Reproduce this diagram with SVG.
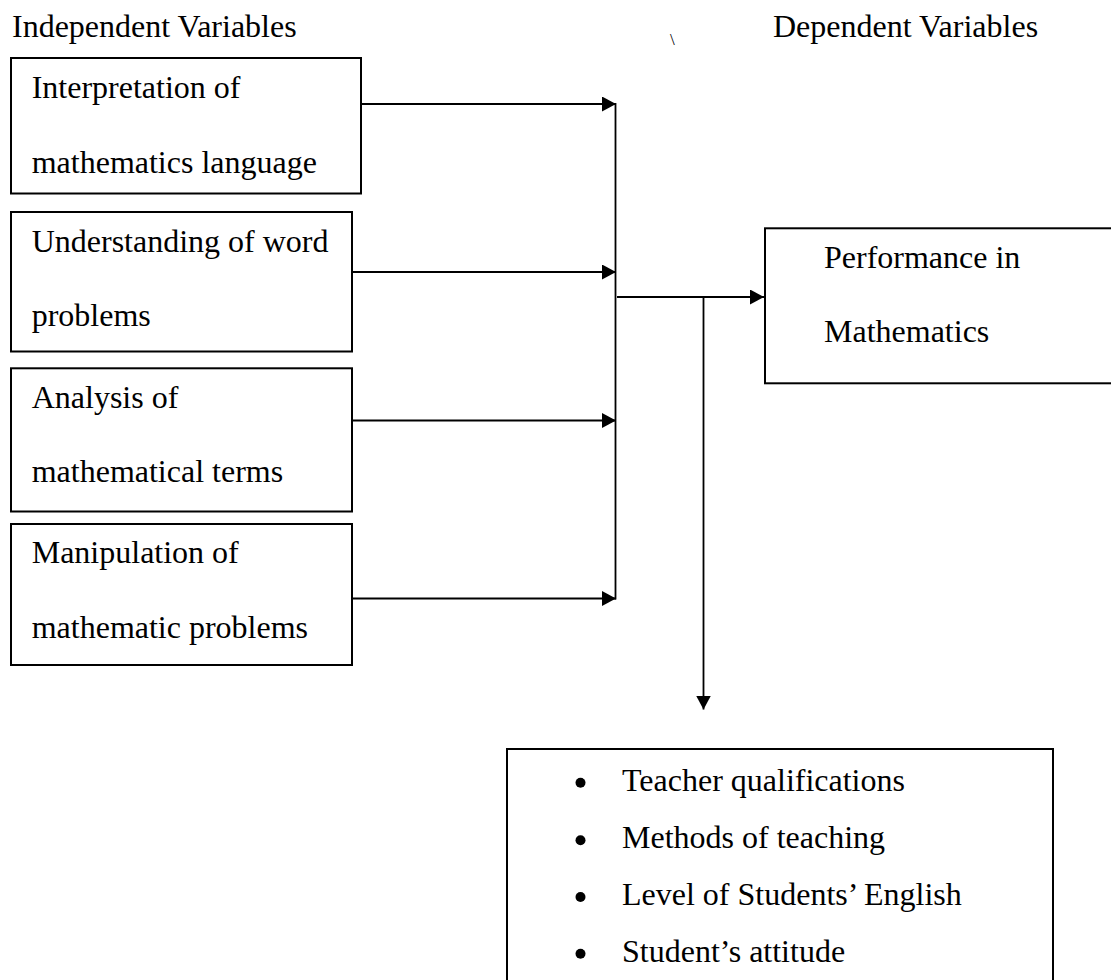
<svg xmlns="http://www.w3.org/2000/svg" width="1111" height="980" viewBox="0 0 1111 980">
  <style>
    .t { font-family: "Liberation Serif", "Times New Roman", serif; font-size: 32px; fill: #000; }
    .box { fill: #fff; stroke: #000; stroke-width: 2; }
    .ln { fill: none; stroke: #000; stroke-width: 1.8; }
  </style>
  <defs>
    <marker id="arr" viewBox="0 0 14 15" refX="14" refY="7.5" markerWidth="14" markerHeight="15" orient="auto" markerUnits="userSpaceOnUse">
      <path d="M0,0 L14,7.5 L0,15 z" fill="#000"/>
    </marker>
  </defs>
  <rect width="1111" height="980" fill="#fff"/>

  <g id="headers">
    <text class="t" x="12" y="37">Independent Variables</text>
    <text class="t" x="670" y="45" style="font-size:17px">\</text>
    <text class="t" x="773" y="37">Dependent Variables</text>
  </g>

  <g id="node-interpretation">
    <rect class="box" x="11" y="58" width="350" height="135.5"/>
    <text class="t" x="31.7" y="98.3">Interpretation of</text>
    <text class="t" x="31.7" y="172.7">mathematics language</text>
  </g>
  <g id="node-understanding">
    <rect class="box" x="11" y="212" width="341" height="139.5"/>
    <text class="t" x="31.7" y="251.7">Understanding of word</text>
    <text class="t" x="31.7" y="326">problems</text>
  </g>
  <g id="node-analysis">
    <rect class="box" x="11" y="368.3" width="341" height="143.2"/>
    <text class="t" x="31.7" y="408.3">Analysis of</text>
    <text class="t" x="31.7" y="481.7">mathematical terms</text>
  </g>
  <g id="node-manipulation">
    <rect class="box" x="11" y="524" width="341" height="141"/>
    <text class="t" x="31.7" y="563.3">Manipulation of</text>
    <text class="t" x="31.7" y="637.7">mathematic problems</text>
  </g>
  <g id="node-performance">
    <rect class="box" x="765" y="228.3" width="360" height="155"/>
    <text class="t" x="824" y="268.3">Performance in</text>
    <text class="t" x="824" y="341.7">Mathematics</text>
  </g>
  <g id="node-factors">
    <rect class="box" x="507" y="749" width="546" height="240"/>
    <circle cx="580.5" cy="782.7" r="5"/>
    <text class="t" x="622" y="790.7">Teacher qualifications</text>
    <circle cx="580.5" cy="840.3" r="5"/>
    <text class="t" x="622" y="848.3">Methods of teaching</text>
    <circle cx="580.5" cy="897" r="5"/>
    <text class="t" x="622" y="905">Level of Students’ English</text>
    <circle cx="580.5" cy="953.7" r="5"/>
    <text class="t" x="622" y="961.7">Student’s attitude</text>
  </g>

  <g id="connectors">
    <line class="ln" x1="361" y1="104" x2="616" y2="104" marker-end="url(#arr)"/>
    <line class="ln" x1="352" y1="272" x2="616" y2="272" marker-end="url(#arr)"/>
    <line class="ln" x1="352" y1="420.5" x2="616" y2="420.5" marker-end="url(#arr)"/>
    <line class="ln" x1="352" y1="598.5" x2="616" y2="598.5" marker-end="url(#arr)"/>
    <line class="ln" x1="615.5" y1="103" x2="615.5" y2="599.5"/>
    <line class="ln" x1="617" y1="297" x2="764" y2="297" marker-end="url(#arr)"/>
    <line class="ln" x1="703.5" y1="297" x2="703.5" y2="709.5" marker-end="url(#arr)"/>
  </g>
</svg>
